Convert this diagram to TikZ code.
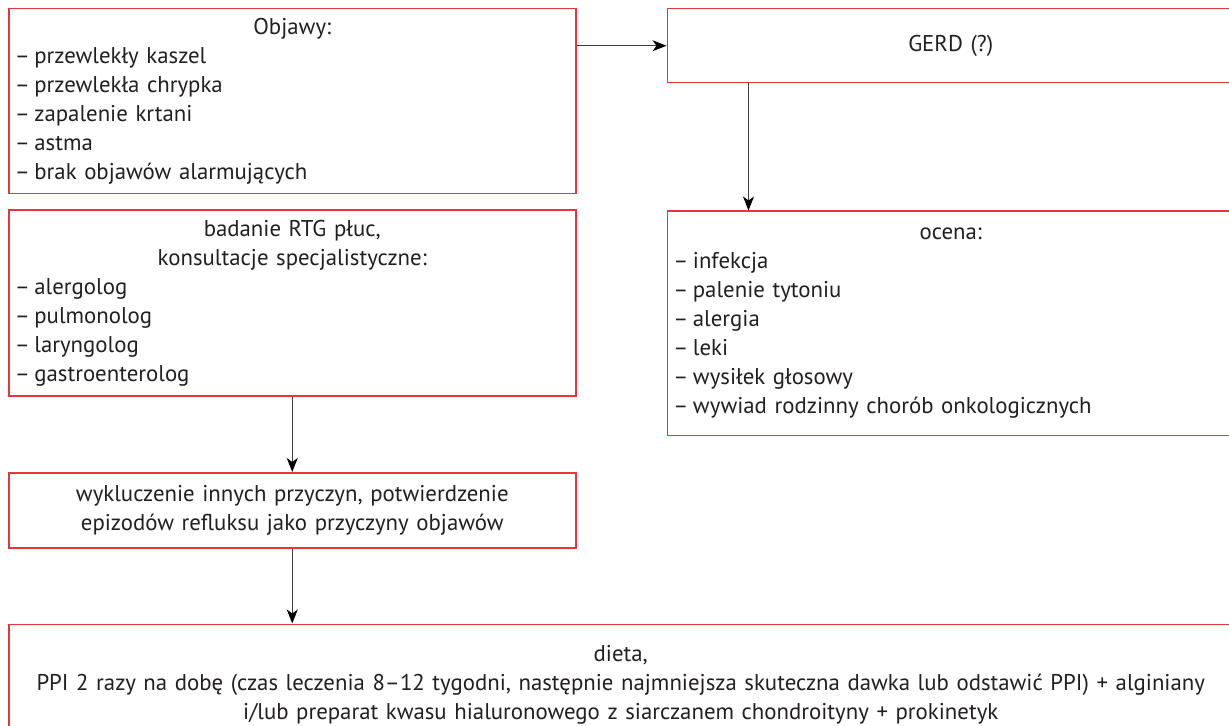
\documentclass[tikz,border=0pt]{standalone}
\usepackage{fontspec}
\setmainfont{PT Sans}
\usetikzlibrary{arrows.meta,positioning}
\definecolor{boxred}{RGB}{232,52,60}
\definecolor{txt}{RGB}{35,31,32}
\newcommand{\hd}[1]{\hspace*{0pt plus 1filll}#1\hspace*{0pt plus 1filll}\mbox{}}
\newcommand{\li}{\leavevmode\kern-1.5pt–\kern-1.5pt\ }
\tikzset{
  box/.style={draw=boxred, line width=0.75pt, rectangle, inner xsep=4.5pt, inner ysep=0pt,
    text=txt, font=\fontsize{11.4pt}{14.5pt}\selectfont},
  lbox/.style={box, minimum width=283.5pt, text width=274.5pt, align=left},
  arr/.style={-{Stealth[length=7pt,width=5.5pt,inset=2pt,black]}, line width=0.6pt, black!75},
}
\begin{document}
\begin{tikzpicture}[x=0.5pt,y=-0.5pt,node distance=7.5pt]
\useasboundingbox[fill=white] (0,0) rectangle (1229,726);
% left column
\node[lbox, minimum height=92.5pt, anchor=north west] (objawy) at (8,8) {\hd{Objawy:}\\
  \li przewlekły kaszel\\
  \li przewlekła chrypka\\
  \li zapalenie krtani\\
  \li astma\\
  \li brak objawów alarmujących};
\node[lbox, minimum height=93pt, below=of objawy.south west, anchor=north west] (badanie) {\hd{badanie RTG płuc,}\\
  \hd{konsultacje specjalistyczne:}\\
  \li alergolog\\
  \li pulmonolog\\
  \li laryngolog\\
  \li gastroenterolog};
\node[lbox, minimum height=37.5pt, align=center, below=37.5pt of badanie.south west, anchor=north west] (wyklucz)
  {wykluczenie innych przyczyn, potwierdzenie\\ epizodów refluksu jako przyczyny objawów};
% right column
\node[lbox, minimum height=37pt, align=center, right=45pt of objawy.north east, anchor=north west] (gerd) {GERD (?)};
\node[lbox, minimum height=112pt, below=63.5pt of gerd.south west, anchor=north west] (ocena) {\hd{ocena:}\\
  \li infekcja\\
  \li palenie tytoniu\\
  \li alergia\\
  \li leki\\
  \li wysiłek głosowy\\
  \li wywiad rodzinny chorób onkologicznych};
% bottom
\node[box, minimum width=612pt, text width=603pt, minimum height=61pt, align=center,
  below=37.5pt of wyklucz.south west, anchor=north west] (dieta) {dieta,\\
  PPI 2 razy na dobę (czas leczenia 8–12 tygodni, następnie najmniejsza skuteczna dawka lub odstawić PPI) + alginiany\\
  i/lub preparat kwasu hialuronowego z siarczanem chondroityny + prokinetyk};
\draw[arr] (objawy.east |- gerd.west) -- (gerd.west);
\draw[arr] ([xshift=41pt]gerd.south west) -- ([xshift=41pt]ocena.north west);
\draw[arr] (badanie.south) -- (wyklucz.north);
\draw[arr] (wyklucz.south) -- (wyklucz.south |- dieta.north);
\end{tikzpicture}
\end{document}
